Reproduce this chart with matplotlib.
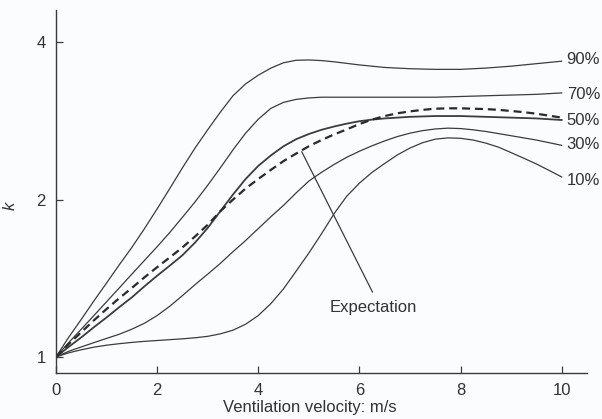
import matplotlib
matplotlib.use("Agg")
import matplotlib.pyplot as plt

plt.rcParams['font.family'] = ['Liberation Sans', 'DejaVu Sans']

velocity = [0.0, 0.25, 0.5, 0.75, 1.0, 1.25, 1.5, 1.75, 2.0, 2.25, 2.5,
            2.75, 3.0, 3.25, 3.5, 3.75, 4.0, 4.25, 4.5, 4.75, 5.0,
            5.25, 5.5, 5.75, 6.0, 6.25, 6.5, 6.75, 7.0, 7.25, 7.5,
            7.75, 8.0, 8.25, 8.5, 8.75, 9.0, 9.25, 9.5, 9.75, 10.0]

k_90 = [1.00, 1.09, 1.18, 1.28, 1.385, 1.50, 1.62, 1.76, 1.92, 2.10, 2.30,
        2.51, 2.72, 2.94, 3.16, 3.33, 3.46, 3.57, 3.655, 3.695, 3.70,
        3.69, 3.67, 3.645, 3.62, 3.60, 3.58, 3.57, 3.56, 3.555, 3.55,
        3.55, 3.55, 3.56, 3.57, 3.585, 3.60, 3.62, 3.64, 3.66, 3.68]
k_70 = [1.00, 1.065, 1.13, 1.20, 1.275, 1.355, 1.44, 1.53, 1.625, 1.73, 1.85,
        1.98, 2.13, 2.30, 2.49, 2.68, 2.85, 2.99, 3.07, 3.11, 3.13,
        3.14, 3.14, 3.14, 3.14, 3.14, 3.14, 3.14, 3.14, 3.14, 3.14,
        3.145, 3.15, 3.155, 3.16, 3.165, 3.17, 3.175, 3.18, 3.19, 3.20]
k_50 = [1.00, 1.045, 1.09, 1.14, 1.19, 1.245, 1.30, 1.365, 1.43, 1.495, 1.565,
        1.655, 1.765, 1.90, 2.045, 2.19, 2.32, 2.43, 2.53, 2.61, 2.67,
        2.72, 2.76, 2.795, 2.825, 2.845, 2.86, 2.87, 2.88, 2.885, 2.89,
        2.89, 2.89, 2.885, 2.88, 2.875, 2.87, 2.865, 2.86, 2.85, 2.84]
k_30 = [1.00, 1.025, 1.045, 1.065, 1.085, 1.105, 1.13, 1.16, 1.20, 1.25, 1.31,
        1.375, 1.44, 1.51, 1.59, 1.67, 1.76, 1.855, 1.95, 2.06, 2.17,
        2.255, 2.335, 2.41, 2.475, 2.535, 2.59, 2.64, 2.68, 2.71, 2.73,
        2.74, 2.735, 2.72, 2.70, 2.675, 2.65, 2.625, 2.60, 2.57, 2.54]
k_10 = [1.00, 1.018, 1.032, 1.044, 1.053, 1.06, 1.066, 1.071, 1.075, 1.079, 1.083,
        1.088, 1.095, 1.107, 1.125, 1.155, 1.20, 1.265, 1.35, 1.46, 1.58,
        1.72, 1.88, 2.03, 2.15, 2.255, 2.345, 2.435, 2.51, 2.57, 2.61,
        2.625, 2.62, 2.60, 2.565, 2.52, 2.46, 2.40, 2.34, 2.275, 2.21]
k_expect = [1.00, 1.058, 1.115, 1.175, 1.235, 1.295, 1.355, 1.42, 1.485, 1.55, 1.62,
            1.70, 1.79, 1.90, 2.00, 2.10, 2.19, 2.28, 2.37, 2.45, 2.53,
            2.60, 2.665, 2.725, 2.79, 2.845, 2.89, 2.925, 2.95, 2.97, 2.985,
            2.99, 2.99, 2.985, 2.98, 2.97, 2.955, 2.94, 2.92, 2.895, 2.87]

percentile_labels = ['90%', '70%', '50%', '30%', '10%']
label_y = [3.71, 3.18, 2.84, 2.55, 2.18]

x_ticks = [0, 2, 4, 6, 8, 10]
y_ticks = [1, 2, 4]

ink = '#3c3c3c'
txt = '#333333'
bg = '#fafcfd'
fs = 12

fig = plt.figure(figsize=(6.02, 4.19), dpi=100, facecolor=bg)
ax = fig.add_axes([0.093, 0.110, 0.882, 0.866], facecolor=bg)
ax.set_yscale('log')

for series, lw in [(k_90, 0.9), (k_70, 0.9), (k_50, 1.3), (k_30, 0.9), (k_10, 0.9)]:
    ax.plot(velocity, series, color=ink, lw=lw, solid_joinstyle='round')
ax.plot(velocity, k_expect, color='#2a2a2a', lw=1.6, linestyle=(0, (3.6, 2.2)))

for lab, yv in zip(percentile_labels, label_y):
    ax.text(10.1, yv, lab, fontsize=fs, color=txt, ha='left', va='center', clip_on=False)

# Expectation annotation: pointer to the dashed curve, label below
ax.annotate('', xy=(4.86, 2.47), xytext=(6.26, 1.33),
            arrowprops=dict(arrowstyle='-', color=ink, lw=0.9, shrinkA=0, shrinkB=0))
ax.text(6.28, 1.245, 'Expectation', fontsize=fs, color=txt, ha='center', va='center')

ax.set_xlim(0, 10.5)
ax.set_ylim(0.932, 4.61)
ax.set_xticks(x_ticks)
ax.set_xticklabels([str(v) for v in x_ticks])
ax.set_yticks(y_ticks)
ax.set_yticklabels([str(v) for v in y_ticks])
ax.yaxis.set_minor_locator(matplotlib.ticker.NullLocator())

for side in ['top', 'right']:
    ax.spines[side].set_visible(False)
for side in ['left', 'bottom']:
    ax.spines[side].set_color(ink)
    ax.spines[side].set_linewidth(1.0)

ax.tick_params(axis='both', direction='in', length=5, width=0.9, color=ink,
               labelsize=fs, labelcolor=txt, pad=7.5)

ax.set_xlabel('Ventilation velocity: m/s', fontsize=fs, color=txt)
ax.xaxis.set_label_coords(0.478, -0.075)
ax.set_ylabel('k', fontsize=fs, style='italic', color=txt)
ax.yaxis.set_label_coords(-0.072, 0.46)

fig.savefig('out.png', dpi=100, facecolor=bg)
